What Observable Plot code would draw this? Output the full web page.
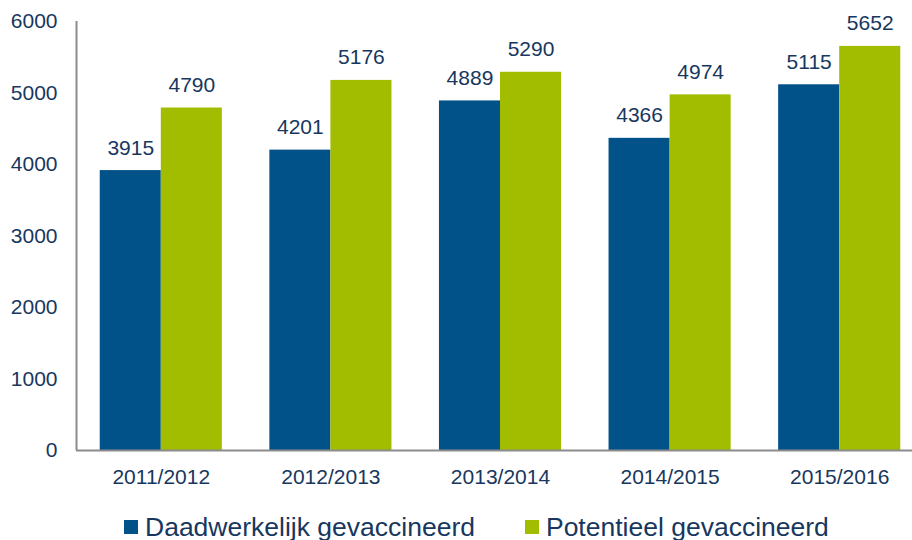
<!DOCTYPE html>
<html>
<head>
<meta charset="utf-8">
<script src="https://cdn.jsdelivr.net/npm/d3@7"></script>
<script src="https://cdn.jsdelivr.net/npm/@observablehq/plot@0.6"></script>
<style>
  html, body { margin: 0; padding: 0; background: #fff; overflow: hidden; }
  #wrap { position: relative; width: 912px; height: 540px; overflow: hidden; font-family: "Liberation Sans", Arial, sans-serif; }
  #wrap svg { max-width: none !important; display: block; }
  #legend { position: absolute; left: 124px; top: 514px; display: flex; align-items: center; font-size: 26.5px; line-height: 26px; color: #17375E; white-space: nowrap; }
  .item { display: flex; align-items: center; }
  .sw { width: 14px; height: 14px; margin-right: 7px; }
</style>
</head>
<body>
<div id="wrap"></div>
<script>
const years = ["2011/2012", "2012/2013", "2013/2014", "2014/2015", "2015/2016"];
const series = ["Daadwerkelijk gevaccineerd", "Potentieel gevaccineerd"];
const daadwerkelijk = [3915, 4201, 4889, 4366, 5115];
const potentieel = [4790, 5176, 5290, 4974, 5652];
const yTicks = [0, 1000, 2000, 3000, 4000, 5000, 6000];
const colors = ["#02528A", "#A2BD00"];
const navy = "#17375E";
const axisGray = "#8C8C8C";

// half of group width in units of category step
const half = 0.36;
const xDomain = [-0.5, years.length - 0.5];

const data = years.flatMap((yr, i) => [
  {i, year: yr, series: series[0], value: daadwerkelijk[i], x1: i - half, x2: i},
  {i, year: yr, series: series[1], value: potentieel[i], x1: i, x2: i + half}
]);

const chart = Plot.plot({
  width: 924,
  height: 500,
  marginLeft: 76,
  marginRight: 0,
  marginTop: 21,
  marginBottom: 50,
  style: {fontFamily: "'Liberation Sans', Arial, sans-serif", fontSize: "21px", color: navy, background: "transparent", maxWidth: "none"},
  x: {domain: xDomain, axis: null},
  y: {domain: [0, 6000], axis: null},
  color: {domain: series, range: colors},
  marks: [
    Plot.rectY(data, {x1: "x1", x2: "x2", y: "value", fill: "series"}),
    Plot.text(data, {x: d => (d.x1 + d.x2) / 2, y: "value", text: d => String(d.value), lineAnchor: "bottom", dy: -16, fontSize: 21, fill: navy}),
    Plot.ruleY([0], {stroke: axisGray, strokeWidth: 2}),
    Plot.ruleX([xDomain[0]], {y1: 0, y2: 6000, stroke: axisGray, strokeWidth: 2}),
    Plot.axisY({ticks: yTicks, tickSize: 0, tickPadding: 19, label: null, fontSize: 21, tickFormat: d => String(d)}),
    Plot.axisX({ticks: d3.range(years.length), tickSize: 0, tickPadding: 19, label: null, fontSize: 21, tickFormat: i => years[i]})
  ]
});
chart.style.maxWidth = "none";

const wrap = document.getElementById("wrap");
wrap.appendChild(chart);

const legend = document.createElement("div");
legend.id = "legend";
series.forEach((s, k) => {
  const item = document.createElement("div");
  item.className = "item";
  if (k === 0) item.style.marginRight = "50px";
  const sw = document.createElement("span");
  sw.className = "sw";
  sw.style.background = colors[k];
  const t = document.createElement("span");
  t.textContent = s;
  item.appendChild(sw);
  item.appendChild(t);
  legend.appendChild(item);
});
wrap.appendChild(legend);
</script>
</body>
</html>
